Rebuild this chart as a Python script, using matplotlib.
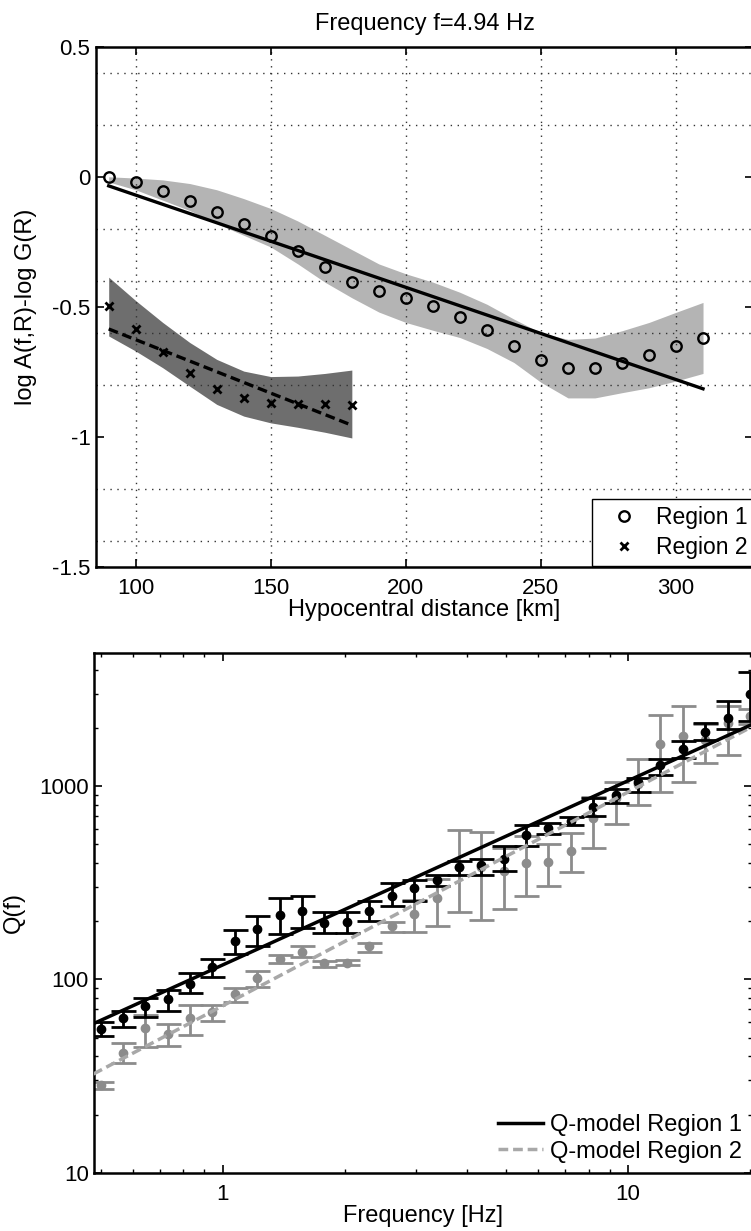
import matplotlib
matplotlib.use('Agg')
import matplotlib.pyplot as plt
from matplotlib.ticker import NullFormatter
from matplotlib.lines import Line2D

plt.rcParams['font.family'] = ['Liberation Sans', 'DejaVu Sans']
plt.rcParams['lines.scale_dashes'] = False

# --- top panel: amplitude decay with distance at f = 4.94 Hz ---
dist1 = [90, 100, 110, 120, 130, 140, 150, 160, 170, 180, 190, 200,
         210, 220, 230, 240, 250, 260, 270, 280, 290, 300, 310]
amp1 = [0.0, -0.022, -0.054, -0.093, -0.135, -0.18, -0.228, -0.286, -0.347,
        -0.403, -0.438, -0.466, -0.498, -0.538, -0.59, -0.65, -0.705, -0.736,
        -0.735, -0.714, -0.686, -0.652, -0.62]
band1_hi = [0.0, -0.005, -0.012, -0.026, -0.05, -0.084, -0.122, -0.17, -0.225,
            -0.28, -0.335, -0.373, -0.405, -0.444, -0.49, -0.547, -0.60, -0.625,
            -0.62, -0.592, -0.56, -0.521, -0.483]
band1_lo = [-0.02, -0.05, -0.09, -0.13, -0.18, -0.225, -0.27, -0.335, -0.405,
            -0.465, -0.52, -0.56, -0.59, -0.618, -0.66, -0.714, -0.79, -0.85,
            -0.85, -0.83, -0.811, -0.785, -0.756]
fit1_dist = [90, 310]
fit1_amp = [-0.035, -0.815]

dist2 = [90, 100, 110, 120, 130, 140, 150, 160, 170, 180]
amp2 = [-0.496, -0.586, -0.672, -0.756, -0.817, -0.849, -0.869, -0.875, -0.875, -0.878]
band2_hi = [-0.386, -0.476, -0.56, -0.637, -0.702, -0.747, -0.768, -0.766, -0.756, -0.743]
band2_lo = [-0.612, -0.67, -0.734, -0.805, -0.875, -0.92, -0.946, -0.963, -0.982, -1.004]
fit2_dist = [90, 180]
fit2_amp = [-0.585, -0.955]

grid_y = [-1.4, -1.2, -1.0, -0.8, -0.6, -0.4, -0.2, 0.0, 0.2, 0.4]

# --- bottom panel: Q(f) ---
freq = [0.50, 0.568, 0.645, 0.732, 0.832, 0.944, 1.072, 1.218, 1.383, 1.570,
        1.783, 2.025, 2.300, 2.611, 2.966, 3.368, 3.824, 4.343, 4.932, 5.600,
        6.360, 7.222, 8.202, 9.314, 10.58, 12.01, 13.64, 15.49, 17.59, 19.98]
q1 = [55.5, 63, 72.5, 79, 95, 116, 158, 182, 216, 227, 196, 197, 225, 270, 297,
      325, 382, 390, 418, 556, 604, 662, 776, 904, 1047, 1287, 1560, 1900, 2264, 3006]
q1_hi = [60, 68.5, 80, 88, 107.5, 128, 181, 214, 264, 270, 223, 223, 255, 314, 325,
         348, 409, 419, 491, 627, 647, 693, 871, 969, 1106, 1377, 1718, 2114, 2768, 3873]
q1_lo = [50.8, 57, 64.2, 69, 85.3, 103, 135, 149, 172, 185, 173, 173, 200, 240, 255,
         305, 348, 345, 365, 491, 564, 627, 700, 813, 933, 1148, 1391, 1733, 1972, 2183]
q2 = [28.4, 41.8, 55.8, 52, 62.8, 68, 83.6, 102, 127, 139, 121, 122, 149, 190, 218,
      264, 382, 382, 365, 400, 403, 462, 684, 871, 1023, 1655, 1815, 1733, 2133, 2300]
q2_hi = [29.6, 46.7, 65.5, 59, 73.6, 73.6, 89.8, 111, 133.6, 149, 125, 126, 155, 199, 257,
         330, 590, 577, 480, 551, 502, 569, 880, 1047, 1377, 2337, 2594, 2084, 2600, 2500]
q2_lo = [27.0, 36.8, 44.9, 45, 51.5, 61, 76.6, 91.6, 121, 131, 116, 118.7, 139, 175, 175,
         189, 222, 203, 231, 270, 306, 361, 480, 638, 802, 933, 1047, 1318, 1450, 2100]
model_f = [0.48, 20.2]
model1_q = [59, 2085]
model2_q = [32.4, 2030]

W, H = 751, 1231
fig = plt.figure(figsize=(W / 100, H / 100), dpi=100)
ax1 = fig.add_axes([96 / W, 1 - 567 / H, 657 / W, 520.3 / H])
ax2 = fig.add_axes([94.3 / W, 1 - 1172.7 / H, 657.7 / W, 520 / H])

grid_style = dict(ls=(0, (1, 4)), lw=1.0, color='0.2')

# top panel
ax1.fill_between(dist1, band1_lo, band1_hi, color='#b4b4b4', lw=0, zorder=1)
ax1.fill_between(dist2, band2_lo, band2_hi, color='#6e6e6e', lw=0, zorder=1)
ax1.plot(fit1_dist, fit1_amp, color='k', lw=2.4, zorder=3)
ax1.plot(fit2_dist, fit2_amp, color='k', lw=2.4, ls='--', dashes=(7, 3.5), zorder=3)
ax1.plot(dist1, amp1, 'o', mfc='none', mec='k', mew=1.7, ms=7.5, zorder=4, label='Region 1')
ax1.plot(dist2, amp2, 'x', color='k', mew=2.0, ms=6, zorder=4, label='Region 2')

ax1.set_xlim(85.3, 328.5)
ax1.set_ylim(-1.5, 0.5)
ax1.set_xticks([100, 150, 200, 250, 300])
ax1.set_yticks([-1.5, -1, -0.5, 0, 0.5])
ax1.set_yticklabels(['-1.5', '-1', '-0.5', '0', '0.5'])
ax1.set_yticks(grid_y, minor=True)
ax1.set_axisbelow('line')
ax1.grid(True, which='major', axis='x', **grid_style)
ax1.grid(True, which='minor', axis='y', **grid_style)
ax1.tick_params(which='minor', axis='y', length=0)
ax1.tick_params(which='major', direction='in', top=True, right=True, length=6,
                width=1.2, labelsize=16)
ax1.tick_params(axis='x', pad=8)
ax1.tick_params(axis='y', pad=4)
for s in ax1.spines.values():
    s.set_linewidth(1.8)
ax1.set_title('Frequency f=4.94 Hz', fontsize=17, pad=12)
ax1.set_xlabel('Hypocentral distance [km]', fontsize=17, labelpad=0)
ax1.set_ylabel('log A(f,R)-log G(R)', fontsize=17, labelpad=11)
leg1 = ax1.legend(loc='upper left', bbox_to_anchor=(592 / W, 1 - 499 / H),
                  bbox_transform=fig.transFigure, fontsize=16.5, frameon=True,
                  fancybox=False, edgecolor='k', framealpha=1, borderaxespad=0,
                  handlelength=2.2, handletextpad=0.3, borderpad=0.3, labelspacing=0.3)
leg1.get_frame().set_linewidth(1.0)

# bottom panel
ax2.set_xscale('log')
ax2.set_yscale('log')
q2_err = [[v - lo for v, lo in zip(q2, q2_lo)], [hi - v for v, hi in zip(q2, q2_hi)]]
q1_err = [[v - lo for v, lo in zip(q1, q1_lo)], [hi - v for v, hi in zip(q1, q1_hi)]]
ax2.errorbar(freq, q2, yerr=q2_err, fmt='o', color='#8c8c8c', ms=6,
             elinewidth=2.0, capsize=9, capthick=2.0, zorder=2)
ax2.errorbar(freq, q1, yerr=q1_err, fmt='o', color='k', ms=6,
             elinewidth=2.0, capsize=9, capthick=2.0, zorder=3)
ax2.plot(model_f, model2_q, color='#a8a8a8', lw=2.5, ls='--', dashes=(7, 3.5), zorder=4)
ax2.plot(model_f, model1_q, color='k', lw=2.5, zorder=5)

ax2.set_xlim(0.4825, 20.2)
ax2.set_ylim(10, 4900)
ax2.set_xticks([1, 10])
ax2.set_xticklabels(['1', '10'])
ax2.set_yticks([10, 100, 1000])
ax2.set_yticklabels(['10', '100', '1000'])
ax2.xaxis.set_minor_formatter(NullFormatter())
ax2.yaxis.set_minor_formatter(NullFormatter())
ax2.tick_params(which='both', direction='in', top=True, right=True, labelsize=16)
ax2.tick_params(which='major', length=6, width=1.2)
ax2.tick_params(which='minor', length=3, width=1.0)
ax2.tick_params(axis='x', pad=8)
ax2.tick_params(axis='y', pad=4)
for s in ax2.spines.values():
    s.set_linewidth(1.8)
ax2.set_xlabel('Frequency [Hz]', fontsize=17, labelpad=0)
ax2.set_ylabel('Q(f)', fontsize=17, labelpad=10)
handles = [Line2D([], [], color='k', lw=2.5),
           Line2D([], [], color='#a8a8a8', lw=2.5, ls='--', dashes=(7, 3.5))]
ax2.legend(handles, ['Q-model Region 1', 'Q-model Region 2'], loc='upper left',
           bbox_to_anchor=(498 / W, 1 - 1114 / H), bbox_transform=fig.transFigure,
           fontsize=17, frameon=False, borderaxespad=0, borderpad=0,
           handlelength=1.9, handletextpad=0.3, labelspacing=0.2)

fig.savefig('out.png', dpi=100)
